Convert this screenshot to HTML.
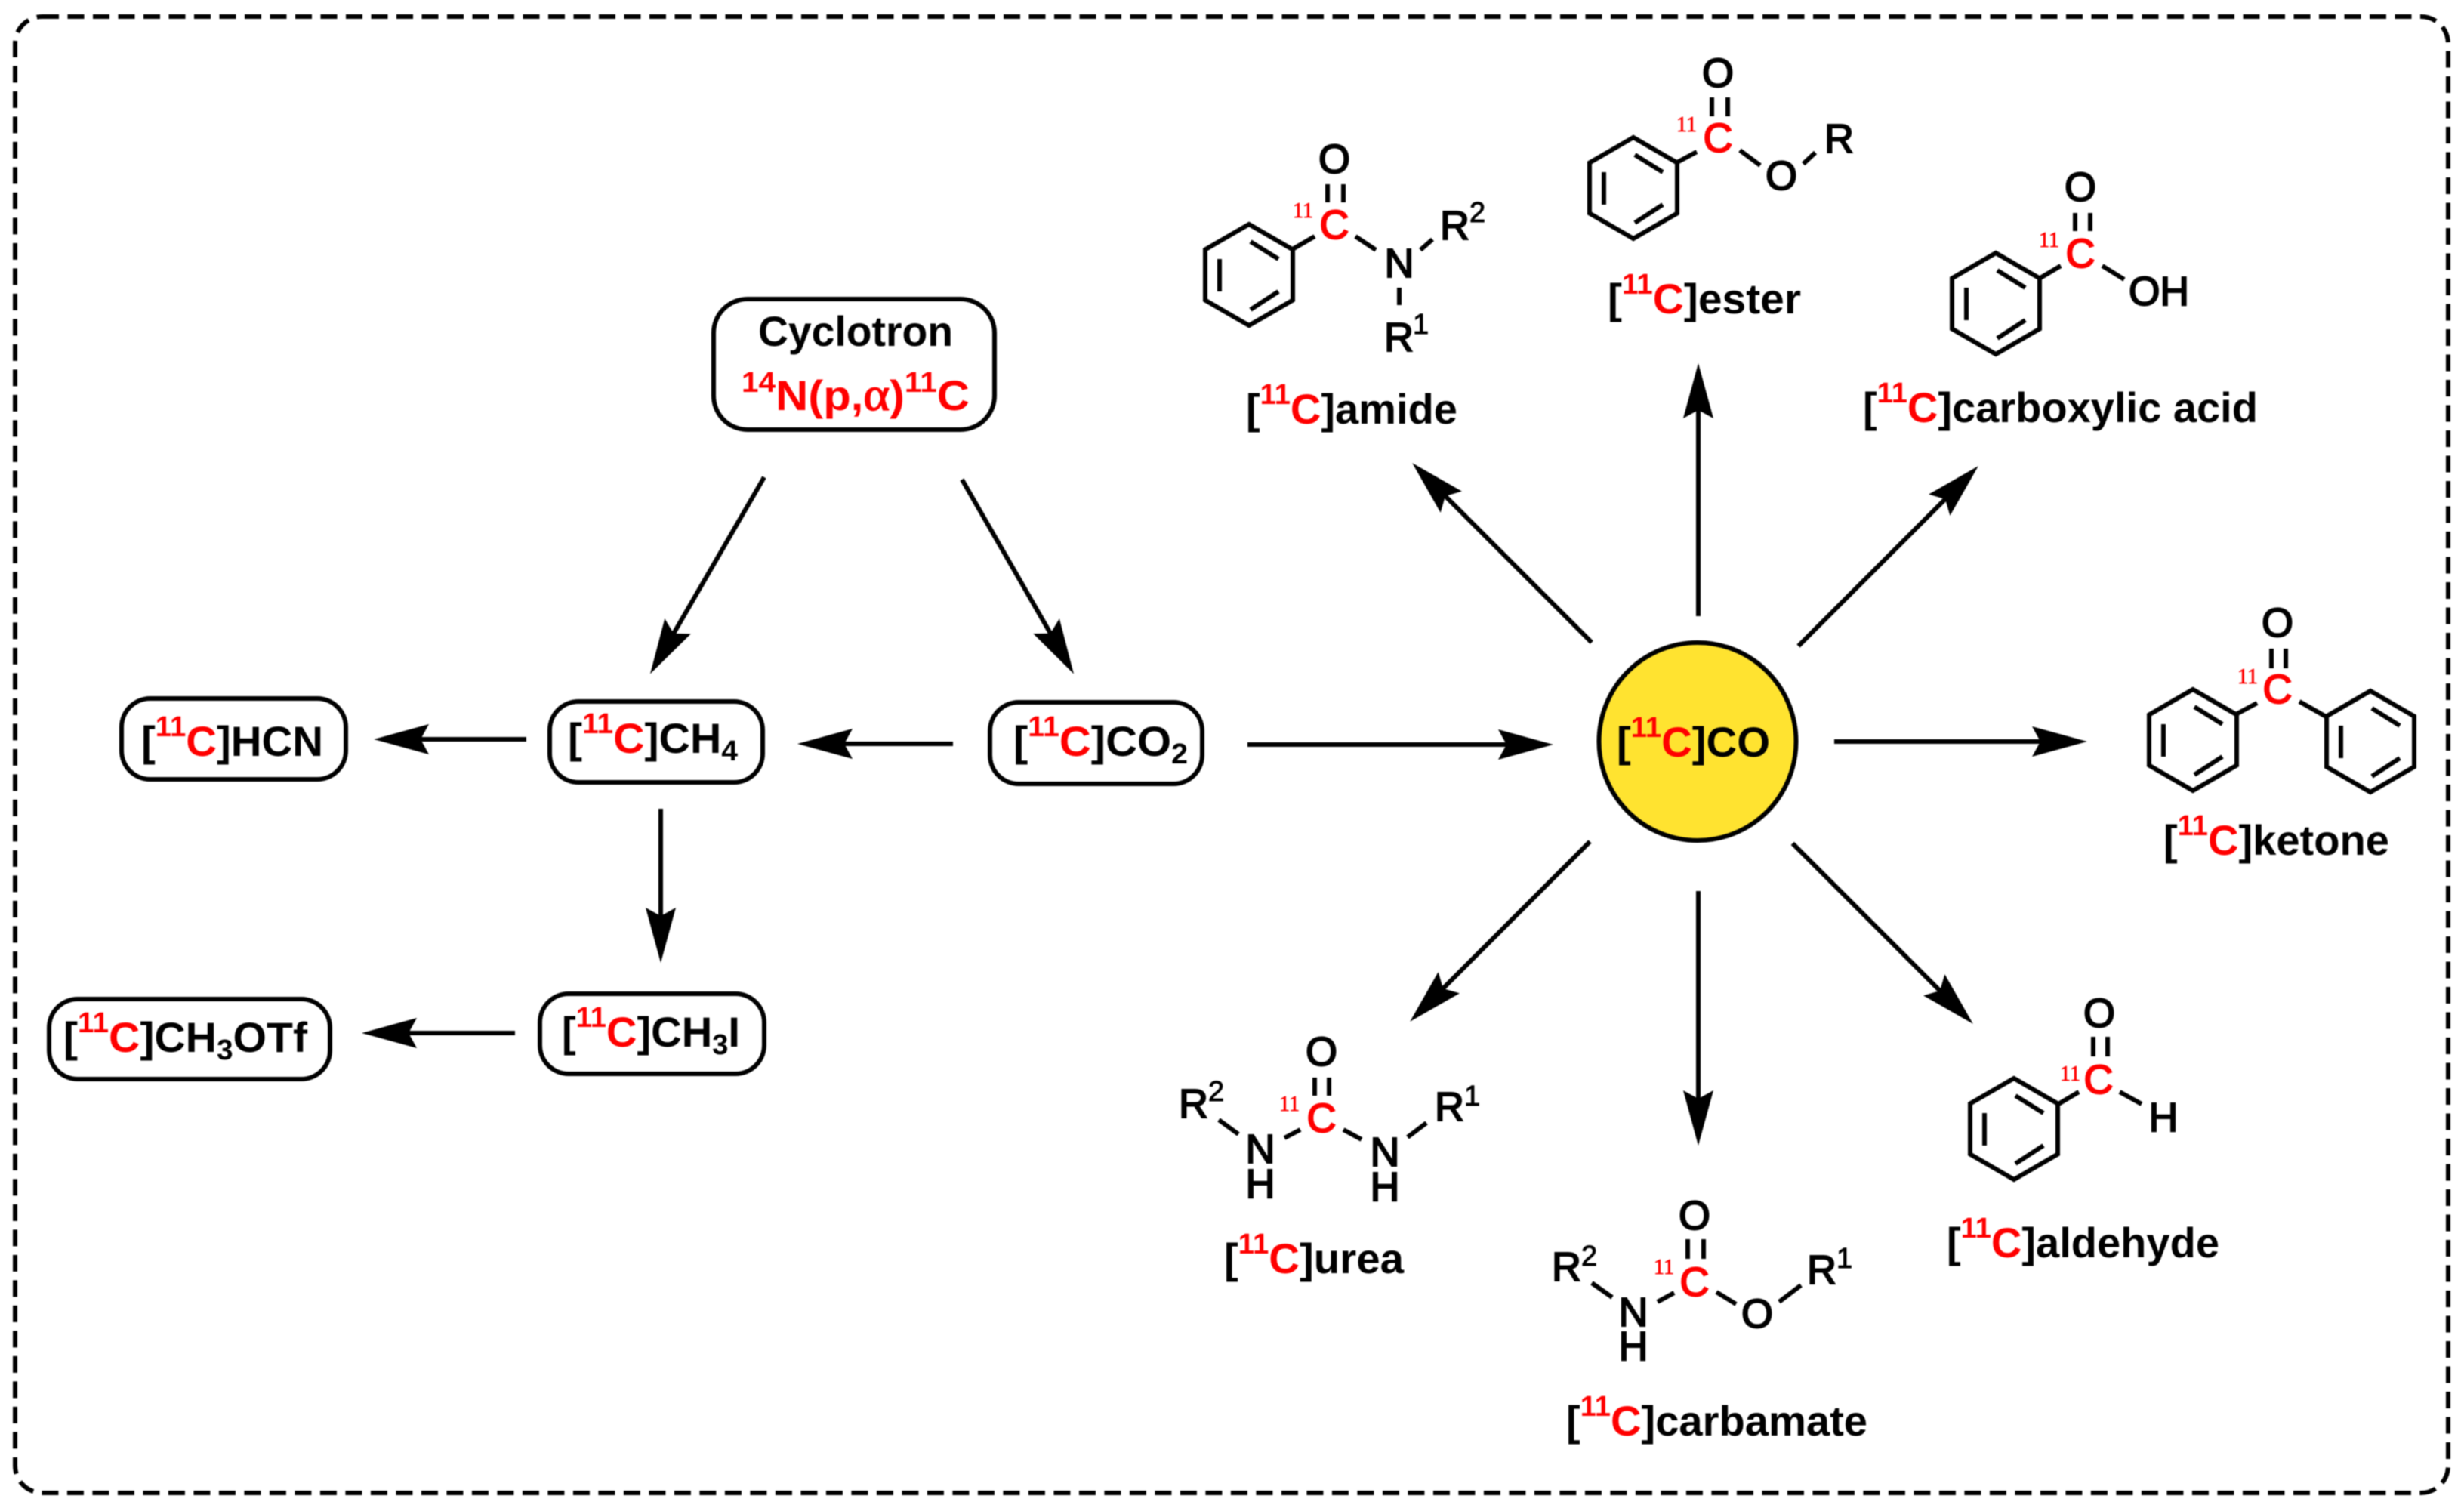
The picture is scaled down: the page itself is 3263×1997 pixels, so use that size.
<!DOCTYPE html>
<html><head><meta charset="utf-8"><style>
html,body{margin:0;padding:0;background:#fff}
svg{display:block;filter:blur(.7px)}
text{font-family:"Liberation Sans",sans-serif}
.l{font-size:56px;font-weight:bold;fill:#000}
.s{font-size:38px;fill:#f00}
.u{font-size:38px}
.r{fill:#f00}
.a{font-size:54px;stroke:#000;stroke-width:2px;text-anchor:middle}
.al{font-size:54px;stroke:#000;stroke-width:2px}
.c{font-size:54px;fill:#f00;stroke:#f00;stroke-width:2px;text-anchor:middle}
.n{font-family:"Liberation Serif",serif;font-size:28px;fill:#f00;stroke:#f00;stroke-width:.7px;text-anchor:end}
.i{font-size:38px;stroke:#000;stroke-width:1px}
.g{font-family:"Liberation Serif",serif;font-weight:normal;font-size:62px;stroke:#f00;stroke-width:1.5px}
.b line{stroke:#000;stroke-width:6;stroke-linecap:butt}
.bx{fill:#fff;stroke:#000;stroke-width:6}
</style></head><body>
<svg width="3263" height="1997" viewBox="0 0 3263 1997" xmlns="http://www.w3.org/2000/svg">
<defs>
<polygon id="ah" points="4,0 -69,-20 -58,0 -69,20" fill="#000"/>
<g id="ring" fill="none" stroke="#000" stroke-width="6">
<polygon points="0,-67 58,-33.5 58,33.5 0,67 -58,33.5 -58,-33.5"/>
<line x1="2" y1="-44" x2="39" y2="-21"/><line x1="2" y1="46" x2="39" y2="22"/><line x1="-39" y1="-21" x2="-39" y2="22"/>
</g>
</defs>
<rect x="20" y="22" width="3222" height="1955" rx="36" fill="none" stroke="#000" stroke-width="6" stroke-dasharray="22 11.5"/>

<!-- boxes -->
<rect class="bx" x="945" y="396" width="372" height="173" rx="45"/>
<rect class="bx" x="161" y="925" width="297" height="107" rx="38"/>
<rect class="bx" x="728" y="929" width="282" height="107" rx="38"/>
<rect class="bx" x="1311" y="930" width="281" height="108" rx="38"/>
<rect class="bx" x="715" y="1316" width="297" height="106" rx="38"/>
<rect class="bx" x="65" y="1323" width="372" height="106" rx="38"/>

<!-- box text -->
<text class="l" x="1004" y="458" textLength="258" lengthAdjust="spacingAndGlyphs">Cyclotron</text>
<text class="l r" x="982" y="543" textLength="302" lengthAdjust="spacingAndGlyphs"><tspan class="s" dy="-24">14</tspan><tspan dy="24">N(p,</tspan><tspan class="g">α</tspan><tspan>)</tspan><tspan class="s" dy="-24">11</tspan><tspan dy="24">C</tspan></text>
<text class="l" x="187" y="1001" textLength="241" lengthAdjust="spacingAndGlyphs">[<tspan class="s" dy="-26">11</tspan><tspan class="r" dy="26">C</tspan>]HCN</text>
<text class="l" x="752" y="997" textLength="225" lengthAdjust="spacingAndGlyphs">[<tspan class="s" dy="-26">11</tspan><tspan class="r" dy="26">C</tspan>]CH<tspan class="u" dy="10">4</tspan></text>
<text class="l" x="1342" y="1001" textLength="231" lengthAdjust="spacingAndGlyphs">[<tspan class="s" dy="-26">11</tspan><tspan class="r" dy="26">C</tspan>]CO<tspan class="u" dy="10">2</tspan></text>
<text class="l" x="744" y="1386" textLength="236" lengthAdjust="spacingAndGlyphs">[<tspan class="s" dy="-26">11</tspan><tspan class="r" dy="26">C</tspan>]CH<tspan class="u" dy="10">3</tspan><tspan dy="-10">I</tspan></text>
<text class="l" x="84" y="1393" textLength="323" lengthAdjust="spacingAndGlyphs">[<tspan class="s" dy="-26">11</tspan><tspan class="r" dy="26">C</tspan>]CH<tspan class="u" dy="10">3</tspan><tspan dy="-10">OTf</tspan></text>

<!-- circle -->
<ellipse cx="2248" cy="982" rx="130.5" ry="131" fill="#FFE330" stroke="#000" stroke-width="6"/>
<text class="l" x="2141" y="1002" textLength="203" lengthAdjust="spacingAndGlyphs">[<tspan class="s" dy="-26">11</tspan><tspan class="r" dy="26">C</tspan>]CO</text>

<!-- arrows -->
<g class="b">
<g transform="translate(863,889) rotate(120.1)"><line x1="-297" x2="-40" y1="0" y2="0"/><use href="#ah"/></g>
<g transform="translate(1420,889) rotate(60.1)"><line x1="-293" x2="-40" y1="0" y2="0"/><use href="#ah"/></g>
<g transform="translate(1060,985) rotate(180)"><line x1="-202" x2="-40" y1="0" y2="0"/><use href="#ah"/></g>
<g transform="translate(499,979) rotate(180)"><line x1="-198" x2="-40" y1="0" y2="0"/><use href="#ah"/></g>
<g transform="translate(875,1271) rotate(90)"><line x1="-200" x2="-40" y1="0" y2="0"/><use href="#ah"/></g>
<g transform="translate(483,1368) rotate(180)"><line x1="-199" x2="-40" y1="0" y2="0"/><use href="#ah"/></g>
<g transform="translate(2053,986)"><line x1="-401" x2="-40" y1="0" y2="0"/><use href="#ah"/></g>
<g transform="translate(1873,616) rotate(-135)"><line x1="-332" x2="-40" y1="0" y2="0"/><use href="#ah"/></g>
<g transform="translate(2249,485) rotate(-90)"><line x1="-331" x2="-40" y1="0" y2="0"/><use href="#ah"/></g>
<g transform="translate(2617,620) rotate(-45)"><line x1="-333" x2="-40" y1="0" y2="0"/><use href="#ah"/></g>
<g transform="translate(2760,982)"><line x1="-331" x2="-40" y1="0" y2="0"/><use href="#ah"/></g>
<g transform="translate(1870,1350) rotate(135)"><line x1="-333" x2="-40" y1="0" y2="0"/><use href="#ah"/></g>
<g transform="translate(2249,1513) rotate(90)"><line x1="-333" x2="-40" y1="0" y2="0"/><use href="#ah"/></g>
<g transform="translate(2610,1353) rotate(45)"><line x1="-334" x2="-40" y1="0" y2="0"/><use href="#ah"/></g>
</g>

<!-- amide -->
<use href="#ring" x="1654" y="364"/>
<g class="b">
<line x1="1710" y1="331" x2="1741" y2="313"/><line x1="1758" y1="244" x2="1758" y2="268"/><line x1="1779" y1="244" x2="1779" y2="268"/>
<line x1="1795" y1="313" x2="1822" y2="331"/><line x1="1881" y1="331" x2="1897" y2="317"/><line x1="1853" y1="381" x2="1853" y2="404"/>
</g>
<text class="a" x="1767" y="229">O</text><text class="c" x="1767" y="316">C</text><text class="n" x="1739" y="288">11</text>
<text class="a" x="1853" y="367">N</text>
<text class="al" x="1907" y="317">R</text><text class="i" x="1946" y="294">2</text>
<text class="al" x="1833" y="465">R</text><text class="i" x="1871" y="442">1</text>
<text class="l" x="1650" y="561" textLength="280" lengthAdjust="spacingAndGlyphs">[<tspan class="s" dy="-26">11</tspan><tspan class="r" dy="26">C</tspan>]amide</text>

<!-- ester -->
<use href="#ring" x="2163" y="249"/>
<g class="b">
<line x1="2221" y1="215" x2="2247" y2="201"/><line x1="2267" y1="129" x2="2267" y2="154"/><line x1="2288" y1="129" x2="2288" y2="154"/>
<line x1="2304" y1="199" x2="2331" y2="219"/><line x1="2388" y1="217" x2="2404" y2="202"/>
</g>
<text class="a" x="2275" y="115">O</text><text class="c" x="2275" y="201">C</text><text class="n" x="2247" y="174">11</text>
<text class="a" x="2359" y="251">O</text><text class="al" x="2416" y="202">R</text>
<text class="l" x="2129" y="415" textLength="256" lengthAdjust="spacingAndGlyphs">[<tspan class="s" dy="-26">11</tspan><tspan class="r" dy="26">C</tspan>]ester</text>

<!-- carboxylic acid -->
<use href="#ring" x="2643" y="402"/>
<g class="b">
<line x1="2702" y1="368" x2="2729" y2="352"/><line x1="2748" y1="282" x2="2748" y2="306"/><line x1="2768" y1="282" x2="2768" y2="306"/>
<line x1="2784" y1="352" x2="2813" y2="370"/>
</g>
<text class="a" x="2755" y="266">O</text><text class="c" x="2755" y="354">C</text><text class="n" x="2727" y="327">11</text>
<text class="al" x="2819" y="404" textLength="80" lengthAdjust="spacingAndGlyphs">OH</text>
<text class="l" x="2467" y="559" textLength="523" lengthAdjust="spacingAndGlyphs">[<tspan class="s" dy="-26">11</tspan><tspan class="r" dy="26">C</tspan>]carboxylic acid</text>

<!-- ketone -->
<use href="#ring" x="2904" y="980"/><use href="#ring" x="3139" y="982"/>
<g class="b">
<line x1="2961" y1="946" x2="2989" y2="931"/><line x1="3008" y1="859" x2="3008" y2="885"/><line x1="3027" y1="859" x2="3027" y2="885"/>
<line x1="3045" y1="929" x2="3082" y2="950"/>
</g>
<text class="a" x="3016" y="843">O</text><text class="c" x="3016" y="931">C</text><text class="n" x="2990" y="905">11</text>
<text class="l" x="2865" y="1132" textLength="299" lengthAdjust="spacingAndGlyphs">[<tspan class="s" dy="-26">11</tspan><tspan class="r" dy="26">C</tspan>]ketone</text>

<!-- aldehyde -->
<use href="#ring" x="2667" y="1495"/>
<g class="b">
<line x1="2726" y1="1462" x2="2753" y2="1446"/><line x1="2772" y1="1373" x2="2772" y2="1399"/><line x1="2791" y1="1373" x2="2791" y2="1399"/>
<line x1="2807" y1="1446" x2="2836" y2="1462"/>
</g>
<text class="a" x="2780" y="1360">O</text><text class="c" x="2779" y="1448">C</text><text class="n" x="2755" y="1431">11</text>
<text class="a" x="2865" y="1498">H</text>
<text class="l" x="2578" y="1665" textLength="361" lengthAdjust="spacingAndGlyphs">[<tspan class="s" dy="-26">11</tspan><tspan class="r" dy="26">C</tspan>]aldehyde</text>

<!-- urea -->
<g class="b">
<line x1="1741" y1="1427" x2="1741" y2="1451"/><line x1="1760" y1="1427" x2="1760" y2="1451"/>
<line x1="1614" y1="1483" x2="1640" y2="1502"/><line x1="1701" y1="1507" x2="1722" y2="1496"/>
<line x1="1779" y1="1496" x2="1803" y2="1509"/><line x1="1864" y1="1506" x2="1889" y2="1487"/>
</g>
<text class="a" x="1750" y="1411">O</text><text class="c" x="1750" y="1499">C</text><text class="n" x="1721" y="1471">11</text>
<text class="a" x="1669" y="1540">N</text><text class="a" x="1669" y="1586">H</text>
<text class="a" x="1834" y="1544">N</text><text class="a" x="1834" y="1590">H</text>
<text class="al" x="1561" y="1480">R</text><text class="i" x="1600" y="1458">2</text>
<text class="al" x="1900" y="1484">R</text><text class="i" x="1939" y="1464">1</text>
<text class="l" x="1621" y="1686" textLength="238" lengthAdjust="spacingAndGlyphs">[<tspan class="s" dy="-26">11</tspan><tspan class="r" dy="26">C</tspan>]urea</text>

<!-- carbamate -->
<g class="b">
<line x1="2235" y1="1641" x2="2235" y2="1667"/><line x1="2256" y1="1641" x2="2256" y2="1667"/>
<line x1="2108" y1="1699" x2="2135" y2="1718"/><line x1="2195" y1="1724" x2="2217" y2="1712"/>
<line x1="2273" y1="1711" x2="2299" y2="1727"/><line x1="2356" y1="1724" x2="2385" y2="1702"/>
</g>
<text class="a" x="2244" y="1628">O</text><text class="c" x="2244" y="1716">C</text><text class="n" x="2217" y="1687">11</text>
<text class="a" x="2163" y="1756">N</text><text class="a" x="2163" y="1801">H</text>
<text class="a" x="2327" y="1758">O</text>
<text class="al" x="2055" y="1696">R</text><text class="i" x="2094" y="1676">2</text>
<text class="al" x="2393" y="1700">R</text><text class="i" x="2432" y="1679">1</text>
<text class="l" x="2074" y="1901" textLength="399" lengthAdjust="spacingAndGlyphs">[<tspan class="s" dy="-26">11</tspan><tspan class="r" dy="26">C</tspan>]carbamate</text>
</svg>
</body></html>
